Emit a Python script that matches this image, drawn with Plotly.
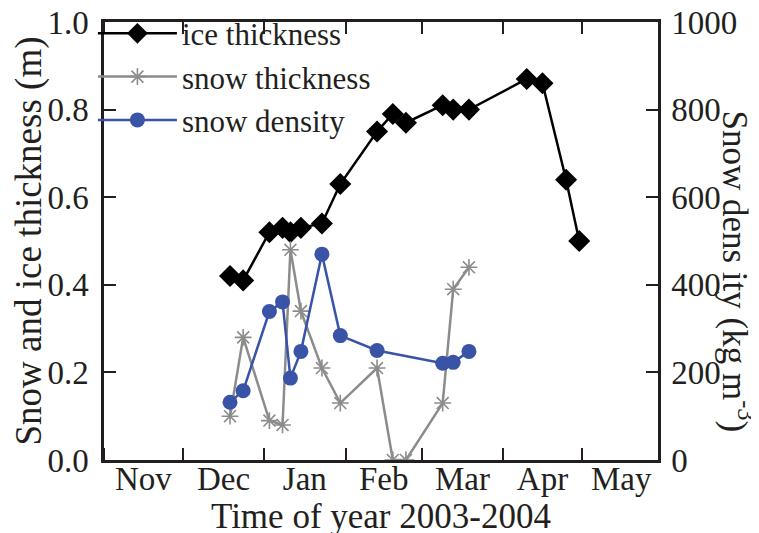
import plotly.graph_objects as go

# ---- data ----
ice_dates = ["2003-12-19", "2003-12-24", "2004-01-03", "2004-01-08", "2004-01-11",
             "2004-01-15", "2004-01-23", "2004-01-30", "2004-02-13", "2004-02-19",
             "2004-02-24", "2004-03-09", "2004-03-13", "2004-03-19", "2004-04-10",
             "2004-04-16", "2004-04-25", "2004-04-30"]
ice_thickness = [0.42, 0.41, 0.52, 0.53, 0.52, 0.53, 0.54, 0.63, 0.75, 0.79,
                 0.77, 0.81, 0.80, 0.80, 0.87, 0.86, 0.64, 0.50]

snow_dates = ["2003-12-19", "2003-12-24", "2004-01-03", "2004-01-08", "2004-01-11",
              "2004-01-15", "2004-01-23", "2004-01-30", "2004-02-13", "2004-02-19",
              "2004-02-24", "2004-03-09", "2004-03-13", "2004-03-19"]
snow_thickness = [0.10, 0.28, 0.09, 0.08, 0.48, 0.34, 0.21, 0.13, 0.21, 0.0,
                  0.0, 0.13, 0.39, 0.44]

density_dates = ["2003-12-19", "2003-12-24", "2004-01-03", "2004-01-08", "2004-01-11",
                 "2004-01-15", "2004-01-23", "2004-01-30", "2004-02-13",
                 "2004-03-09", "2004-03-13", "2004-03-19"]
snow_density = [132, 158, 339, 361, 187, 248, 470, 284, 250, 221, 223, 248]

x_range = ["2003-11-01", "2004-05-30"]
left_ticks = [0.0, 0.2, 0.4, 0.6, 0.8, 1.0]
right_ticks = [0, 200, 400, 600, 800, 1000]

FONT = "Liberation Serif"
FS_TICK = 33
FS_TITLE = 35
FS_YTITLE = 37
FS_LEG = 31
INK = "#231f20"
BLUE = "#3953a6"
GRAY = "#8c8c8c"

fig = go.Figure()
fig.add_trace(go.Scatter(
    x=ice_dates, y=ice_thickness, name="ice thickness", mode="lines+markers",
    line=dict(color="black", width=2.5),
    marker=dict(symbol="diamond", size=17, color="black"),
))
fig.add_trace(go.Scatter(
    x=snow_dates, y=snow_thickness, name="snow thickness", mode="lines+markers",
    line=dict(color=GRAY, width=2.5),
    marker=dict(symbol="asterisk-open", size=14, color=GRAY,
                line=dict(color=GRAY, width=1.6)),
))
fig.add_trace(go.Scatter(
    x=density_dates, y=snow_density, name="snow density", mode="lines+markers",
    yaxis="y2",
    line=dict(color=BLUE, width=2.5),
    marker=dict(symbol="circle", size=15, color=BLUE),
))

axis_common = dict(
    showline=True, linecolor=INK, linewidth=2.5,
    ticks="inside", ticklen=12, tickwidth=2, tickcolor=INK,
    showgrid=False, zeroline=False, ticklabeloverflow="allow",
    tickfont=dict(family=FONT, size=FS_TICK, color=INK),
)

fig.update_layout(
    width=759, height=533,
    margin=dict(l=96, r=109, t=14, b=81, autoexpand=False),
    plot_bgcolor="white", paper_bgcolor="white",
    font=dict(family=FONT, size=FS_TICK, color=INK),
    showlegend=True,
    legend=dict(x=-0.02, y=1.035, xanchor="left", yanchor="top",
                bgcolor="rgba(0,0,0,0)", borderwidth=0,
                font=dict(family=FONT, size=FS_LEG, color=INK),
                itemwidth=79, tracegroupgap=0),
    xaxis=dict(
        type="date", range=x_range, dtick="M1", tick0="2003-11-01",
        ticklabelmode="period", tickformat="%b", mirror="ticks",
        ticklabelstandoff=-12,
        **axis_common,
    ),
    yaxis=dict(
        range=[0, 1], tickvals=left_ticks, tickformat=".1f",
        ticklabelstandoff=6,
        title=dict(text="Snow and ice thickness (m)",
                   font=dict(family=FONT, size=FS_YTITLE, color=INK), standoff=0),
        **axis_common,
    ),
    yaxis2=dict(
        range=[0, 1000], tickvals=right_ticks, overlaying="y", side="right",
        ticklabelstandoff=4,
        **axis_common,
    ),
    annotations=[
        dict(
            text="Snow dens ity (kg m<sup>-3</sup>)", textangle=90,
            xref="paper", yref="paper", x=1.143, y=0.43,
            xanchor="center", yanchor="middle", showarrow=False,
            font=dict(family=FONT, size=FS_TITLE, color=INK),
        ),
        dict(
            text="Time of year 2003-2004",
            xref="paper", yref="paper", x=0.5, y=-0.129,
            xanchor="center", yanchor="middle", showarrow=False,
            font=dict(family=FONT, size=FS_TITLE, color=INK),
        ),
    ],
)

fig.write_html("out.html")
